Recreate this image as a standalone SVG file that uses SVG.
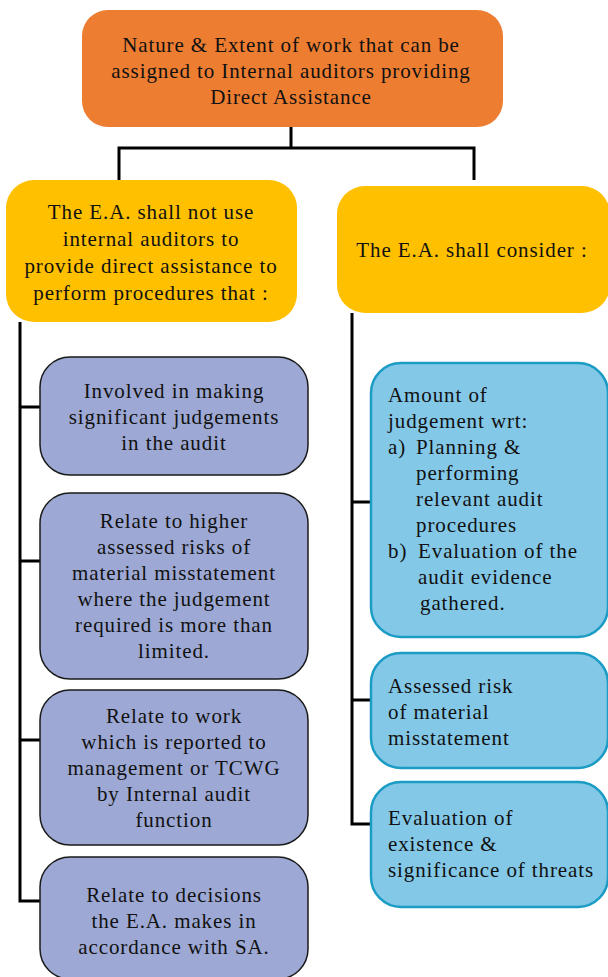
<svg xmlns="http://www.w3.org/2000/svg" width="608" height="977" viewBox="0 0 608 977">
<style>
text{font-family:"Liberation Serif","DejaVu Serif",serif;font-size:21px;letter-spacing:0.9px;fill:#111}
.c{text-anchor:middle}
.top{fill:#ED7D31}
.hdr{fill:#FFC000}
.pur{fill:#9DA9D4;stroke:#1a1a1a;stroke-width:1.5}
.blu{fill:#84C8E8;stroke:#1A9CC4;stroke-width:2.5}
.ln{fill:none;stroke:#000;stroke-width:3}
</style>
<g id="connectors">
<path class="ln" d="M291 127V148M119 180V148H474V180"/>
<path class="ln" d="M20 322V901H40M20 407H40M20 561H40M20 740H40"/>
<path class="ln" d="M352 313V824H372M352 502H372M352 700H372"/>
</g>
<g id="n-top"><rect class="top" x="82" y="10" width="421" height="117" rx="26"/>
<text class="c" x="291" y="52">Nature &amp; Extent of work that can be</text>
<text class="c" x="291" y="78">assigned to Internal auditors providing</text>
<text class="c" x="291" y="104">Direct Assistance</text></g>
<g id="n-left"><rect class="hdr" x="6" y="180" width="291" height="142" rx="28"/>
<text class="c" x="151" y="219">The E.A. shall not use</text>
<text class="c" x="151" y="246">internal auditors to</text>
<text class="c" x="151" y="273">provide direct assistance to</text>
<text class="c" x="151" y="300">perform procedures that :</text></g>
<g id="n-right"><rect class="hdr" x="337" y="186" width="273" height="127" rx="28"/>
<text class="c" x="472" y="257">The E.A.  shall consider :</text></g>
<g id="n-l1"><rect class="pur" x="40" y="357" width="268" height="118" rx="30"/>
<text class="c" x="174" y="398">Involved in making</text>
<text class="c" x="174" y="424">significant judgements</text>
<text class="c" x="174" y="450">in the audit</text></g>
<g id="n-l2"><rect class="pur" x="40" y="493" width="268" height="186" rx="30"/>
<text class="c" x="174" y="528">Relate to higher</text>
<text class="c" x="174" y="554">assessed risks of</text>
<text class="c" x="174" y="580">material misstatement</text>
<text class="c" x="174" y="606">where the judgement</text>
<text class="c" x="174" y="632">required is more than</text>
<text class="c" x="174" y="658">limited.</text></g>
<g id="n-l3"><rect class="pur" x="40" y="690" width="268" height="155" rx="30"/>
<text class="c" x="174" y="723">Relate to work</text>
<text class="c" x="174" y="749">which is reported to</text>
<text class="c" x="174" y="775">management or TCWG</text>
<text class="c" x="174" y="801">by Internal audit</text>
<text class="c" x="174" y="827">function</text></g>
<g id="n-l4"><rect class="pur" x="40" y="857" width="268" height="122" rx="30"/>
<text class="c" x="174" y="902">Relate to decisions</text>
<text class="c" x="174" y="928">the E.A. makes in</text>
<text class="c" x="174" y="954">accordance with SA.</text></g>
<g id="n-r1"><rect class="blu" x="371" y="363" width="237" height="274" rx="30"/>
<text x="388" y="402">Amount of</text>
<text x="388" y="428">judgement wrt:</text>
<text x="388" y="454">a)</text><text x="416" y="454">Planning &amp;</text>
<text x="416" y="480">performing</text>
<text x="416" y="506">relevant audit</text>
<text x="416" y="532">procedures</text>
<text x="388" y="558">b)</text><text x="418" y="558">Evaluation of the</text>
<text x="418" y="584">audit evidence</text>
<text x="420" y="610">gathered.</text></g>
<g id="n-r2"><rect class="blu" x="371" y="653" width="237" height="115" rx="30"/>
<text x="388" y="693">Assessed risk</text>
<text x="388" y="719">of material</text>
<text x="388" y="745">misstatement</text></g>
<g id="n-r3"><rect class="blu" x="371" y="782" width="237" height="125" rx="30"/>
<text x="388" y="825">Evaluation of</text>
<text x="388" y="851">existence &amp;</text>
<text x="388" y="877">significance of threats</text></g>
</svg>
